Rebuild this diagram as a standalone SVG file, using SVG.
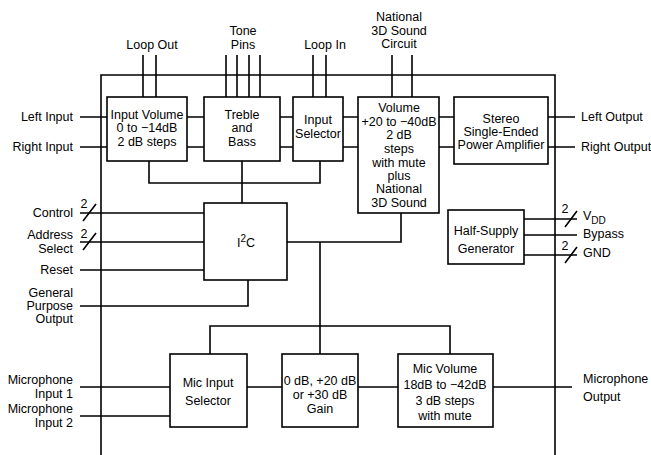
<svg xmlns="http://www.w3.org/2000/svg" width="651" height="455" viewBox="0 0 651 455">
<style>
text{font-family:"Liberation Sans",Arial,sans-serif;font-size:12.5px;fill:#000}
.c{text-anchor:middle}
.r{text-anchor:end}
.box{fill:#fff;stroke:#000;stroke-width:1.6}
.w{fill:none;stroke:#000;stroke-width:1.6}
</style>
<rect width="651" height="455" fill="#fff"/>
<g id="connectors" class="w">
<path d="M101,455V75H555V455"/>
<path d="M143,55V97M156,55V97"/>
<path d="M226,55V97M237,55V97M249,55V97M260,55V97"/>
<path d="M313,55V97M326,55V97"/>
<path d="M392,55V97M412,55V97"/>
<path d="M80,117H107M80,147H107"/>
<path d="M187,117H204M187,147H204"/>
<path d="M280,117H293M280,147H293"/>
<path d="M343,117H358M343,147H358"/>
<path d="M439,117H454M439,147H454"/>
<path d="M548,117H575M548,147H575"/>
<path d="M149,161V183H320V161M242,161V203"/>
<path d="M80,213H204M80,242H204M80,270H204M80,306H248V280"/>
<path d="M287,242H401V213M320,242V354"/>
<path d="M210,354V326H450V354"/>
<path d="M80,387H170M80,416H170M247,387H282M358,387H398M493,387H572"/>
<path d="M524,219H577M524,235H577M524,255H577"/>
<path d="M83,221L96,204M83,250L96,233M565,227L577,211M565,263L577,247"/>
</g>
<g id="pin-labels">
<text class="c" x="152" y="49">Loop Out</text>
<text class="c" x="243" y="35">Tone</text>
<text class="c" x="243" y="49">Pins</text>
<text class="c" x="325" y="49">Loop In</text>
<text class="c" x="399" y="21">National</text>
<text class="c" x="399" y="35">3D Sound</text>
<text class="c" x="399" y="48">Circuit</text>
<text class="r" x="73" y="121">Left Input</text>
<text class="r" x="73" y="151">Right Input</text>
<text class="r" x="73" y="217">Control</text>
<text class="r" x="73" y="239">Address</text>
<text class="r" x="73" y="253">Select</text>
<text class="r" x="73" y="274">Reset</text>
<text class="r" x="73" y="297">General</text>
<text class="r" x="73" y="310">Purpose</text>
<text class="r" x="73" y="323">Output</text>
<text class="r" x="73" y="384">Microphone</text>
<text class="r" x="73" y="398">Input 1</text>
<text class="r" x="73" y="413">Microphone</text>
<text class="r" x="73" y="427">Input 2</text>
<text x="581" y="121">Left Output</text>
<text x="581" y="151">Right Output</text>
<text x="583" y="220">V<tspan font-size="10" dy="4">DD</tspan></text>
<text x="583" y="238">Bypass</text>
<text x="583" y="257">GND</text>
<text x="583" y="383">Microphone</text>
<text x="583" y="401">Output</text>
<text class="c" x="84" y="208">2</text>
<text class="c" x="84" y="238">2</text>
<text class="c" x="565" y="213">2</text>
<text class="c" x="565" y="250">2</text>
</g>
<g id="input-volume">
<rect class="box" x="107" y="97" width="80" height="64"/>
<text class="c" x="147" y="119">Input Volume</text>
<text class="c" x="147" y="132">0 to −14dB</text>
<text class="c" x="147" y="146">2 dB steps</text>
</g>
<g id="treble-bass">
<rect class="box" x="204" y="97" width="76" height="64"/>
<text class="c" x="242" y="119">Treble</text>
<text class="c" x="242" y="132">and</text>
<text class="c" x="242" y="146">Bass</text>
</g>
<g id="input-selector">
<rect class="box" x="293" y="97" width="50" height="64"/>
<text class="c" x="318" y="124">Input</text>
<text class="c" x="318" y="138">Selector</text>
</g>
<g id="volume">
<rect class="box" x="358" y="97" width="81" height="116"/>
<text class="c" x="399" y="112">Volume</text>
<text class="c" x="399" y="126">+20 to −40dB</text>
<text class="c" x="399" y="139">2 dB</text>
<text class="c" x="399" y="153">steps</text>
<text class="c" x="399" y="167">with mute</text>
<text class="c" x="399" y="180">plus</text>
<text class="c" x="399" y="193">National</text>
<text class="c" x="399" y="207">3D Sound</text>
</g>
<g id="power-amp">
<rect class="box" x="454" y="97" width="94" height="67"/>
<text class="c" x="501" y="123">Stereo</text>
<text class="c" x="501" y="136">Single-Ended</text>
<text class="c" x="501" y="149">Power Amplifier</text>
</g>
<g id="i2c">
<rect class="box" x="204" y="203" width="83" height="77"/>
<text class="c" x="246" y="247">I<tspan font-size="10" dy="-5">2</tspan><tspan dy="5">C</tspan></text>
</g>
<g id="half-supply">
<rect class="box" x="448" y="210" width="76" height="54"/>
<text class="c" x="486" y="235">Half-Supply</text>
<text class="c" x="486" y="253">Generator</text>
</g>
<g id="mic-input-selector">
<rect class="box" x="170" y="354" width="77" height="73"/>
<text class="c" x="208" y="387">Mic Input</text>
<text class="c" x="208" y="405">Selector</text>
</g>
<g id="gain">
<rect class="box" x="282" y="354" width="76" height="73"/>
<text class="c" x="320" y="385">0 dB, +20 dB</text>
<text class="c" x="320" y="399">or +30 dB</text>
<text class="c" x="320" y="413">Gain</text>
</g>
<g id="mic-volume">
<rect class="box" x="398" y="354" width="95" height="73"/>
<text class="c" x="445" y="373">Mic Volume</text>
<text class="c" x="445" y="389">18dB to −42dB</text>
<text class="c" x="445" y="405">3 dB steps</text>
<text class="c" x="445" y="420">with mute</text>
</g>
</svg>
